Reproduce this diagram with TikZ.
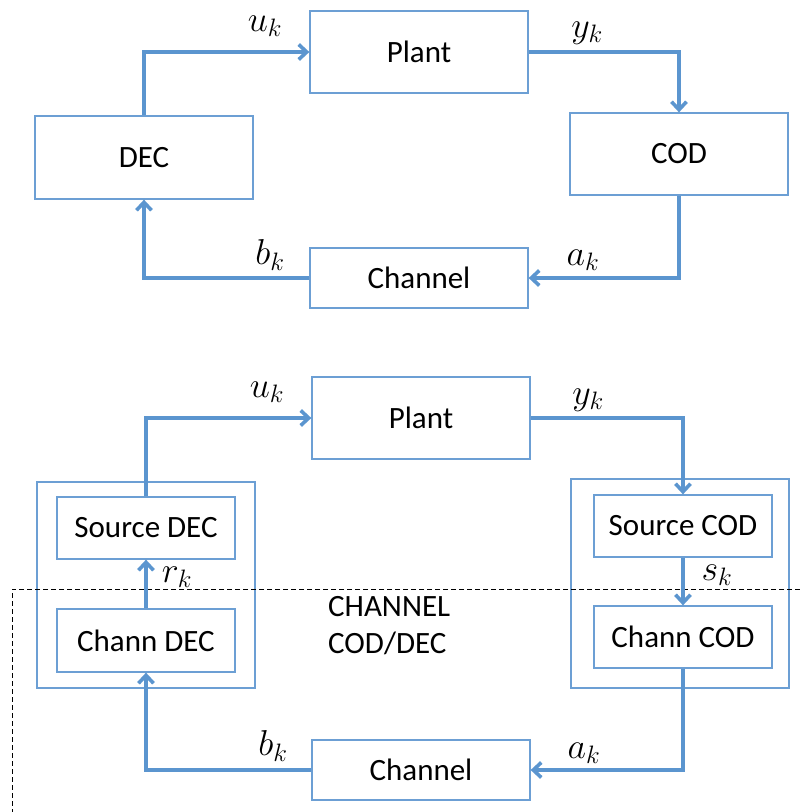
\RequirePackage{fix-cm}
\documentclass[tikz,border=0pt]{standalone}
\usepackage{fontspec}
\setmainfont{Carlito}
\usetikzlibrary{arrows.meta}
\definecolor{boxblue}{HTML}{6C9FD4}
\definecolor{flowblue}{HTML}{5B95CF}
\begin{document}
\begin{tikzpicture}[x=1pt,y=-1pt,
  blk/.style={draw=boxblue,line width=1.3pt,inner sep=0pt,
    font=\fontsize{31}{36}\selectfont},
  wide/.style={blk,minimum width=218pt},
  inner/.style={blk,minimum width=178pt},
  frame/.style={draw=boxblue,line width=1.3pt,inner sep=0pt,minimum width=218pt},
  flow/.style={draw=flowblue,line width=3.6pt,
    -{Straight Barb[length=8pt,width=15pt]}},
  sig/.style={inner sep=0pt,font=\fontsize{36}{40}\selectfont},
  note/.style={inner sep=0pt,align=left,font=\fontsize{31}{37}\selectfont},
  border/.style={draw=black,line width=0.9pt,dash pattern=on 5pt off 3pt}]
\useasboundingbox (0,0) rectangle (800,812);

% ---- upper loop: plant, encoder, channel, decoder ----
\node[wide,minimum height=82pt] (plant) at (419,52) {Plant};
\node[wide,minimum height=83pt] (dec) at (144,157.5) {DEC};
\node[wide,minimum height=82pt] (cod) at (679,154) {COD};
\node[wide,minimum height=60pt] (chan) at (419,278) {Channel};

\draw[flow] (dec.north) |- (plant.west);
\draw[flow] (plant.east) -| (cod.north);
\draw[flow] (cod.south) |- (chan.east);
\draw[flow] (chan.west) -| (dec.south);

\node[sig] (u1) at (265,26) {$u_k$};
\node[sig] (y1) at (587,33) {$y_k$};
\node[sig] (a1) at (583,260) {$a_k$};
\node[sig] (b1) at (270,255) {$b_k$};

% ---- lower loop: split source / channel coding ----
\node[frame,minimum height=206pt] (left) at (146,585) {};
\node[frame,minimum height=209pt] (right) at (680,583.5) {};
\node[wide,minimum height=82pt] (plantb) at (421,418) {Plant};
\node[inner,minimum height=62pt] (sdec) at (146,528) {Source DEC};
\node[inner,minimum height=63pt] (cdec) at (146,640.5) {Chann DEC};
\node[inner,minimum height=62pt] (scod) at (683,526) {Source COD};
\node[inner,minimum height=62pt] (ccod) at (683,637) {Chann COD};
\node[wide,minimum height=60pt] (chanb) at (421,770) {Channel};

% channel coder/decoder region
\coordinate (dE) at (800,589);
\coordinate (dC) at (12,589);
\coordinate (dS) at (12,812);
\draw[border] (dE) -- (dC) -- (dS);
\node[note,anchor=north west] (cc) at (328,596) {CHANNEL\\COD/DEC};

\draw[flow] (sdec.north) |- (plantb.west);
\draw[flow] (plantb.east) -| (scod.north);
\draw[flow] (scod.south) -- (ccod.north);
\draw[flow] (ccod.south) |- (chanb.east);
\draw[flow] (chanb.west) -| (cdec.south);
\draw[flow] (cdec.north) -- (sdec.south);

\node[sig] (u2) at (267,392) {$u_k$};
\node[sig] (y2) at (588,400) {$y_k$};
\node[sig] (r2) at (177,577) {$r_k$};
\node[sig] (s2) at (717,575) {$s_k$};
\node[sig] (a2) at (584,753) {$a_k$};
\node[sig] (b2) at (273,746) {$b_k$};
\end{tikzpicture}
\end{document}
